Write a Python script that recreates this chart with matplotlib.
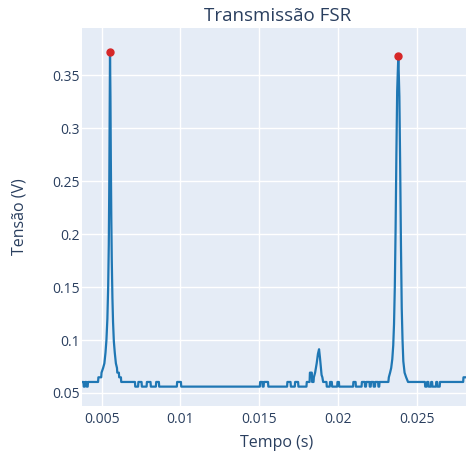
import numpy as np
import matplotlib
matplotlib.use("Agg")
import matplotlib.pyplot as plt
from matplotlib.ticker import FuncFormatter

# FSR transmission trace: time (ms) and photodiode voltage (V)
tempo_ms = [
    3.77, 3.84, 3.86, 3.93, 3.95, 4.03, 4.05, 4.11, 4.13, 4.77, 4.79, 4.97, 4.99,
    5.09, 5.17, 5.24, 5.30, 5.36, 5.41, 5.45, 5.48, 5.50, 5.527, 5.555, 5.58, 5.61,
    5.64, 5.68, 5.72, 5.77, 5.83, 5.90, 5.97, 5.99, 6.09, 6.11, 6.22, 6.24,
    7.11, 7.13, 7.31, 7.33, 7.53, 7.55, 7.85, 7.87, 8.10, 8.12, 8.44, 8.46, 8.63,
    8.65, 9.77, 9.79, 10.03, 10.05,
    15.04, 15.06, 15.20, 15.22, 15.28, 15.30, 15.56, 15.58,
    16.77, 16.79, 16.99, 17.01, 17.26, 17.28, 17.47, 17.49, 18.00, 18.02, 18.20,
    18.22, 18.34, 18.36, 18.45, 18.47,
    18.55, 18.65, 18.73, 18.80, 18.86, 18.91, 18.96, 19.01, 19.06,
    19.27, 19.29, 19.48, 19.50, 19.61, 19.63, 19.95, 19.97, 20.06, 20.08, 20.96,
    20.98, 21.12, 21.14,
    21.50, 21.52, 21.70, 21.72, 21.78, 21.80, 22.00, 22.02, 22.08, 22.10, 22.25,
    22.27, 22.35, 22.37, 22.55, 22.57, 22.62, 22.64, 23.20,
    23.23, 23.31, 23.38, 23.45, 23.51, 23.56, 23.61, 23.66, 23.71, 23.76, 23.832,
    23.90, 23.95, 24.00, 24.05, 24.10, 24.15, 24.23, 24.33, 24.45,
    25.52, 25.54, 25.64, 25.66, 25.74, 25.76, 25.90, 25.92, 25.98, 26.00, 26.22,
    26.24, 26.30, 26.32, 26.46, 26.48, 27.95, 27.97, 28.13,
]
tensao = [
    0.0604, 0.0604, 0.0560, 0.0560, 0.0604, 0.0604, 0.0560, 0.0560, 0.0604, 0.0604,
    0.0648, 0.0648, 0.0692,
    0.0736, 0.078, 0.088, 0.100, 0.120, 0.150, 0.190, 0.245, 0.300, 0.372, 0.330,
    0.270, 0.215, 0.175, 0.140, 0.117, 0.099, 0.088, 0.078, 0.0736, 0.0692, 0.0692,
    0.0648, 0.0648, 0.0604,
    0.0604, 0.0560, 0.0560, 0.0604, 0.0604, 0.0560, 0.0560, 0.0604, 0.0604, 0.0560,
    0.0560, 0.0604, 0.0604, 0.0560, 0.0560, 0.0604, 0.0604, 0.0560,
    0.0560, 0.0604, 0.0604, 0.0560, 0.0560, 0.0604, 0.0604, 0.0560,
    0.0560, 0.0604, 0.0604, 0.0560, 0.0560, 0.0604, 0.0604, 0.0560, 0.0560, 0.0604,
    0.0604, 0.0692, 0.0692, 0.0604, 0.0604, 0.0648,
    0.0692, 0.078, 0.087, 0.0913, 0.083, 0.075, 0.067, 0.0648, 0.0604,
    0.0604, 0.0560, 0.0560, 0.0604, 0.0604, 0.0560, 0.0560, 0.0604, 0.0604, 0.0560,
    0.0560, 0.0604, 0.0604, 0.0560,
    0.0560, 0.0604, 0.0604, 0.0560, 0.0560, 0.0604, 0.0604, 0.0560, 0.0560, 0.0604,
    0.0604, 0.0560, 0.0560, 0.0604, 0.0604, 0.0560, 0.0560, 0.0604, 0.0604,
    0.0648, 0.0692, 0.0736, 0.082, 0.095, 0.115, 0.150, 0.205, 0.275, 0.335, 0.368,
    0.330, 0.265, 0.190, 0.130, 0.100, 0.080, 0.0692, 0.0648, 0.0604,
    0.0604, 0.0560, 0.0560, 0.0604, 0.0604, 0.0560, 0.0560, 0.0604, 0.0604, 0.0560,
    0.0560, 0.0604, 0.0604, 0.0560, 0.0560, 0.0604, 0.0604, 0.0648, 0.0648,
]

t = np.array(tempo_ms) / 1000.0
v = np.array(tensao)

# one maximum on each side of the trace
meio = len(t) // 2
i1 = int(np.argmax(v[:meio]))
i2 = meio + int(np.argmax(v[meio:]))
picos = [i1, i2]

texto = "#2a3f5f"
plt.rcParams["font.family"] = ["Open Sans", "DejaVu Sans"]

fig = plt.figure(figsize=(4.66, 4.55), dpi=100)
ax = fig.add_axes([82.3 / 466, 49 / 455, (466 - 82.3) / 466, 378 / 455])
ax.set_facecolor("#E5ECF6")
for s in ax.spines.values():
    s.set_visible(False)

ax.plot(t, v, color="#1f77b4", linewidth=1.6, solid_joinstyle="round", zorder=3)
ax.plot(t[picos], v[picos], "o", color="#d62728", markersize=5, zorder=4)

ax.set_xlim(0.003768, 0.02813)
ax.set_ylim(0.0377, 0.3947)
ax.set_xticks([0.005, 0.01, 0.015, 0.02, 0.025])
ax.set_yticks([0.05, 0.1, 0.15, 0.2, 0.25, 0.3, 0.35])
fmt = FuncFormatter(lambda x, p: f"{x:g}")
ax.xaxis.set_major_formatter(fmt)
ax.yaxis.set_major_formatter(fmt)
ax.grid(True, color="white", linewidth=1.0)
ax.set_axisbelow(True)
ax.tick_params(length=0, labelsize=10, colors=texto)
ax.tick_params(axis="x", pad=4)
ax.tick_params(axis="y", pad=2)

fig.text(278 / 466, 1 - 16 / 455, "Transmissão FSR", ha="center", va="center",
         fontsize=13.5, color=texto)
fig.text(277 / 466, 1 - 443 / 455, "Tempo (s)", ha="center", va="center",
         fontsize=11.5, color=texto)
fig.text(20 / 466, 1 - 217 / 455, "Tensão (V)", ha="center", va="center",
         rotation=90, fontsize=11.5, color=texto)

fig.savefig("out.png", dpi=100, facecolor="white")
